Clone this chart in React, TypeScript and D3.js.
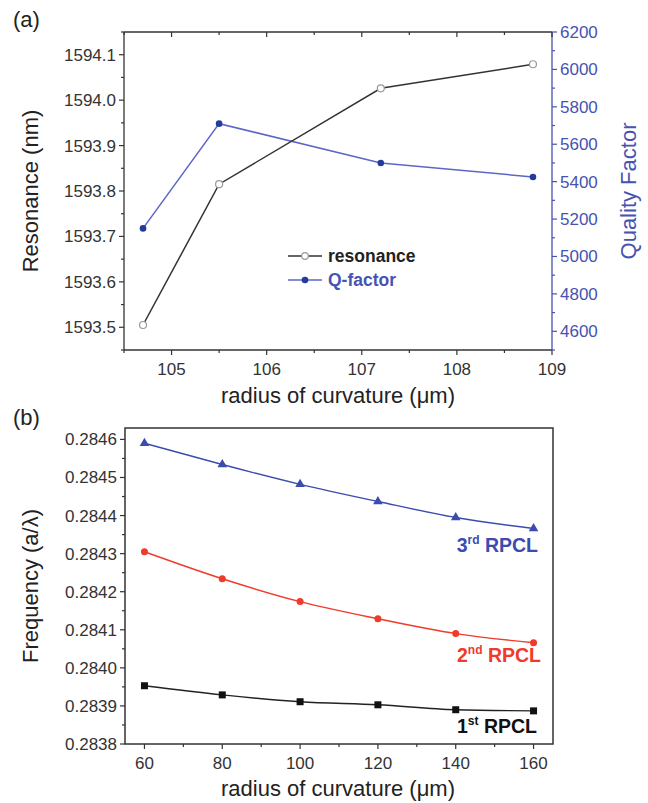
import React from "react";
import * as d3 from "d3";

// Panel (a)
const radiusA = [104.7, 105.5, 107.2, 108.8];
const resonance = [1593.505, 1593.815, 1594.026, 1594.079];
const qFactor = [5150, 5710, 5500, 5425];
const xTicksA = [105, 106, 107, 108, 109];
const yTicksA = [1593.5, 1593.6, 1593.7, 1593.8, 1593.9, 1594.0, 1594.1];
const qTicks = [4600, 4800, 5000, 5200, 5400, 5600, 5800, 6000, 6200];

// Panel (b)
const radiusB = [60, 80, 100, 120, 140, 160];
const rpcl1 = [0.283953, 0.283929, 0.283911, 0.283903, 0.28389, 0.283887];
const rpcl2 = [0.284305, 0.284234, 0.284174, 0.284129, 0.28409, 0.284066];
const rpcl3 = [0.28459, 0.284534, 0.284482, 0.284437, 0.284395, 0.284366];
const xTicksB = [60, 80, 100, 120, 140, 160];
const yTicksB = [0.2838, 0.2839, 0.284, 0.2841, 0.2842, 0.2843, 0.2844, 0.2845, 0.2846];

const FONT = "'Liberation Sans', Arial, sans-serif";
const AX = "#333";
const BLUE_AX = "#4653b2";
const BLUE_LINE = "#5c66c8";
const BLUE_DOT = "#233c9c";
const BLUE3 = "#3b4cae";
const RED = "#f03a2a";
const TICK_FS = 17;
const TITLE_FS = 22;

export default function App() {
  // Panel a geometry
  const aL = 124, aR = 552, aT = 32, aB = 350;
  const xA = d3.scaleLinear().domain([104.5, 109]).range([aL, aR]);
  const yA = d3.scaleLinear().domain([1593.45, 1594.15]).range([aB, aT]);
  const yQ = d3.scaleLinear().domain([4500, 6200]).range([aB, aT]);
  const minorXA = d3.range(104.5, 109.01, 0.5);
  const minorYA = d3.range(1593.45, 1594.151, 0.05);
  const minorQ = d3.range(4500, 6201, 100);

  const lineRes = d3.line<number>().x((_, i) => xA(radiusA[i])).y((d) => yA(d));
  const lineQ = d3.line<number>().x((_, i) => xA(radiusA[i])).y((d) => yQ(d));

  // Panel b geometry
  const bL = 125, bR = 553, bT = 428, bB = 744;
  const xB = d3.scaleLinear().domain([55, 165]).range([bL, bR]);
  const yB = d3.scaleLinear().domain([0.2838, 0.28463]).range([bB, bT]);
  const minorXB = d3.range(60, 161, 10);
  const minorYB = d3.range(0.2838, 0.28463, 0.00005);
  const lineB = d3
    .line<number>()
    .x((_, i) => xB(radiusB[i]))
    .y((d) => yB(d))
    .curve(d3.curveMonotoneX);

  const tri = d3.symbol().type(d3.symbolTriangle).size(40)();

  return (
    <svg
      width={648}
      height={803}
      style={{ position: "absolute", left: 0, top: 0, background: "#fff" }}
      fontFamily={FONT}
    >
      {/* ---------- Panel (a) ---------- */}
      <text x={13} y={27} fontSize={22} fill="#222">(a)</text>

      {/* frame lines */}
      <line x1={aL} x2={aR} y1={aT} y2={aT} stroke={AX} strokeWidth={1.3} />
      <line x1={aL} x2={aL} y1={aT} y2={aB} stroke={AX} strokeWidth={1.3} />
      <line x1={aL} x2={aR} y1={aB} y2={aB} stroke={AX} strokeWidth={1.3} />
      <line x1={aR} x2={aR} y1={aT} y2={aB} stroke={BLUE_AX} strokeWidth={1.3} />

      {/* x ticks bottom & top */}
      {minorXA.map((v, i) => {
        const major = Math.abs(v - Math.round(v)) < 1e-6 && v >= 105;
        return (
          <g key={"xa" + i}>
            <line x1={xA(v)} x2={xA(v)} y1={aB} y2={aB + (major ? 5 : 3)} stroke={AX} strokeWidth={1.2} />
            <line x1={xA(v)} x2={xA(v)} y1={aT} y2={aT + (major ? 5 : 3)} stroke={AX} strokeWidth={1.2} />
          </g>
        );
      })}
      {xTicksA.map((v) => (
        <text key={"xal" + v} x={xA(v)} y={aB + 25} fontSize={TICK_FS} fill={AX} textAnchor="middle">
          {v}
        </text>
      ))}

      {/* left y ticks */}
      {minorYA.map((v, i) => {
        const major = i % 2 === 1;
        return (
          <line key={"ya" + i} x1={aL - (major ? 5 : 3)} x2={aL} y1={yA(v)} y2={yA(v)} stroke={AX} strokeWidth={1.2} />
        );
      })}
      {yTicksA.map((v) => (
        <text key={"yal" + v} x={aL - 8} y={yA(v) + 6} fontSize={TICK_FS} fill={AX} textAnchor="end">
          {v.toFixed(1)}
        </text>
      ))}

      {/* right y ticks */}
      {minorQ.map((v, i) => {
        const major = i % 2 === 1;
        return (
          <line key={"q" + i} x1={aR} x2={aR + (major ? 5 : 3)} y1={yQ(v)} y2={yQ(v)} stroke={BLUE_AX} strokeWidth={1.2} />
        );
      })}
      {qTicks.map((v) => (
        <text key={"ql" + v} x={aR + 8} y={yQ(v) + 6} fontSize={TICK_FS} fill={BLUE_AX}>
          {v}
        </text>
      ))}

      {/* axis titles */}
      <text x={338} y={403} fontSize={TITLE_FS} fill="#222" textAnchor="middle">
        radius of curvature (μm)
      </text>
      <text transform={`translate(38,${(aT + aB) / 2}) rotate(-90)`} fontSize={TITLE_FS} fill="#222" textAnchor="middle">
        Resonance (nm)
      </text>
      <text transform={`translate(636,${(aT + aB) / 2}) rotate(-90)`} fontSize={TITLE_FS} fill={BLUE_AX} textAnchor="middle">
        Quality Factor
      </text>

      {/* series */}
      <path d={lineQ(qFactor) || ""} fill="none" stroke={BLUE_LINE} strokeWidth={1.5} />
      <path d={lineRes(resonance) || ""} fill="none" stroke="#333" strokeWidth={1.5} />
      {qFactor.map((v, i) => (
        <circle key={"qd" + i} cx={xA(radiusA[i])} cy={yQ(v)} r={3.3} fill={BLUE_DOT} />
      ))}
      {resonance.map((v, i) => (
        <circle key={"rd" + i} cx={xA(radiusA[i])} cy={yA(v)} r={3.5} fill="#fff" stroke="#999" strokeWidth={1.2} />
      ))}

      {/* legend */}
      <line x1={288} x2={322} y1={256} y2={256} stroke="#333" strokeWidth={1.5} />
      <circle cx={305} cy={256} r={3.3} fill="#fff" stroke="#999" strokeWidth={1.2} />
      <text x={328} y={262} fontSize={17.5} fontWeight="bold" fill="#222">resonance</text>
      <line x1={288} x2={322} y1={280} y2={280} stroke={BLUE_LINE} strokeWidth={1.5} />
      <circle cx={305} cy={280} r={3.3} fill={BLUE_DOT} />
      <text x={328} y={286} fontSize={17.5} fontWeight="bold" fill={BLUE_AX}>Q-factor</text>

      {/* ---------- Panel (b) ---------- */}
      <text x={13} y={425} fontSize={22} fill="#222">(b)</text>

      <rect x={bL} y={bT} width={bR - bL} height={bB - bT} fill="none" stroke={AX} strokeWidth={1.5} />

      {minorXB.map((v, i) => {
        const major = i % 2 === 0;
        return (
          <line key={"xb" + i} x1={xB(v)} x2={xB(v)} y1={bB} y2={bB + (major ? 5 : 3)} stroke={AX} strokeWidth={1.2} />
        );
      })}
      {xTicksB.map((v) => (
        <text key={"xbl" + v} x={xB(v)} y={bB + 25} fontSize={TICK_FS} fill={AX} textAnchor="middle">
          {v}
        </text>
      ))}
      {minorYB.map((v, i) => {
        const major = i % 2 === 0;
        return (
          <line key={"yb" + i} x1={bL - (major ? 5 : 3)} x2={bL} y1={yB(v)} y2={yB(v)} stroke={AX} strokeWidth={1.2} />
        );
      })}
      {yTicksB.map((v) => (
        <text key={"ybl" + v} x={bL - 8} y={yB(v) + 6} fontSize={TICK_FS} fill={AX} textAnchor="end">
          {v.toFixed(4)}
        </text>
      ))}

      <text x={338} y={796} fontSize={TITLE_FS} fill="#222" textAnchor="middle">
        radius of curvature (μm)
      </text>
      <text transform={`translate(38,${(bT + bB) / 2}) rotate(-90)`} fontSize={TITLE_FS} fill="#222" textAnchor="middle">
        Frequency (a/λ)
      </text>

      {/* series */}
      <path d={lineB(rpcl3) || ""} fill="none" stroke={BLUE3} strokeWidth={1.4} />
      <path d={lineB(rpcl2) || ""} fill="none" stroke={RED} strokeWidth={1.4} />
      <path d={lineB(rpcl1) || ""} fill="none" stroke="#222" strokeWidth={1.4} />
      {rpcl3.map((v, i) => (
        <path key={"t" + i} d={tri || ""} transform={`translate(${xB(radiusB[i])},${yB(v)})`} fill={BLUE3} />
      ))}
      {rpcl2.map((v, i) => (
        <circle key={"c" + i} cx={xB(radiusB[i])} cy={yB(v)} r={3.5} fill={RED} />
      ))}
      {rpcl1.map((v, i) => (
        <rect key={"s" + i} x={xB(radiusB[i]) - 3.5} y={yB(v) - 3.5} width={7} height={7} fill="#111" />
      ))}

      {/* series labels */}
      <text x={538} y={552} fontSize={19.5} fontWeight="bold" fill={BLUE3} textAnchor="end">
        3<tspan fontSize={12} dy={-8}>rd</tspan>
        <tspan dy={8}> RPCL</tspan>
      </text>
      <text x={541} y={662} fontSize={19.5} fontWeight="bold" fill={RED} textAnchor="end">
        2<tspan fontSize={12} dy={-8}>nd</tspan>
        <tspan dy={8}> RPCL</tspan>
      </text>
      <text x={537} y={733} fontSize={19.5} fontWeight="bold" fill="#111" textAnchor="end">
        1<tspan fontSize={12} dy={-8}>st</tspan>
        <tspan dy={8}> RPCL</tspan>
      </text>
    </svg>
  );
}
